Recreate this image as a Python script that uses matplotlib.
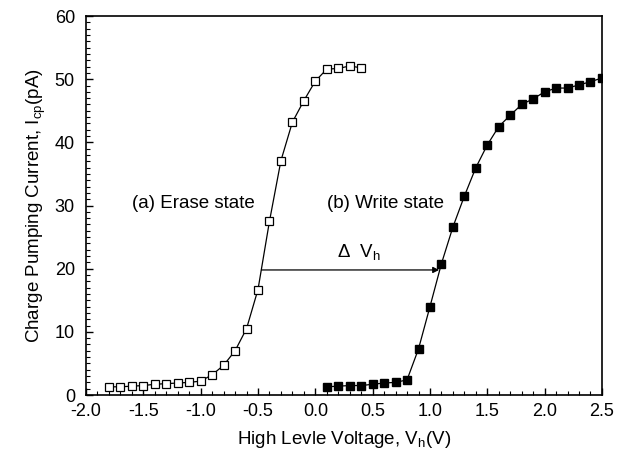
import matplotlib
matplotlib.use("Agg")
import matplotlib.pyplot as plt
from matplotlib.ticker import MultipleLocator, FormatStrFormatter

plt.rcParams['font.family'] = ['Liberation Sans', 'DejaVu Sans']
plt.rcParams['mathtext.fontset'] = 'custom'
plt.rcParams['mathtext.rm'] = 'Liberation Sans'
plt.rcParams['mathtext.it'] = 'Liberation Sans:italic'

# erase state (open squares)
erase_v = [-1.8, -1.7, -1.6, -1.5, -1.4, -1.3, -1.2, -1.1, -1.0, -0.9, -0.8, -0.7,
           -0.6, -0.5, -0.4, -0.3, -0.2, -0.1, 0.0, 0.1, 0.2, 0.3, 0.4]
erase_i = [1.3, 1.3, 1.4, 1.5, 1.7, 1.8, 1.9, 2.0, 2.2, 3.2, 4.7, 7.0,
           10.5, 16.7, 27.5, 37.1, 43.2, 46.6, 49.7, 51.6, 51.7, 52.1, 51.8]

# write state (filled squares)
write_v = [0.1, 0.2, 0.3, 0.4, 0.5, 0.6, 0.7, 0.8, 0.9, 1.0, 1.1, 1.2, 1.3,
           1.4, 1.5, 1.6, 1.7, 1.8, 1.9, 2.0, 2.1, 2.2, 2.3, 2.4, 2.5]
write_i = [1.3, 1.4, 1.5, 1.5, 1.7, 1.9, 2.0, 2.4, 7.3, 14.0, 20.8, 26.6, 31.5,
           36.0, 39.6, 42.5, 44.3, 46.0, 46.9, 48.0, 48.6, 48.6, 49.1, 49.6, 50.2]

fig = plt.figure(figsize=(6.3, 4.59), dpi=100)
ax = fig.add_axes([0.1365, 0.1394, 0.819, 0.8256])

ax.plot(erase_v, erase_i, '-', color='black', lw=0.9, marker='s', ms=6,
        mfc='white', mec='black', mew=0.9)
ax.plot(write_v, write_i, '-', color='black', lw=0.9, marker='s', ms=6,
        mfc='black', mec='black')

ax.annotate('', xy=(1.08, 19.8), xytext=(-0.47, 19.8),
            arrowprops=dict(arrowstyle='-|>', color='black', lw=0.9,
                            mutation_scale=9, shrinkA=0, shrinkB=0))
ax.text(-1.6, 30.4, '(a) Erase state', fontsize=13.5, va='center', ha='left')
ax.text(0.1, 30.4, '(b) Write state', fontsize=13.5, va='center', ha='left')
ax.text(0.19, 22.7, r'$\Delta$  V$_{\rm h}$', fontsize=13.5, va='center', ha='left')

ax.set_xlim(-2.0, 2.5)
ax.set_ylim(0, 60)
ax.xaxis.set_major_locator(MultipleLocator(0.5))
ax.xaxis.set_minor_locator(MultipleLocator(0.1))
ax.yaxis.set_major_locator(MultipleLocator(10))
ax.yaxis.set_minor_locator(MultipleLocator(1))
ax.xaxis.set_major_formatter(FormatStrFormatter('%.1f'))
ax.tick_params(which='both', direction='in', top=False, right=False, labelsize=13)
ax.tick_params(which='major', length=5, width=1)
ax.tick_params(which='minor', length=3, width=0.8)
ax.tick_params(axis='x', which='major', pad=6)
ax.tick_params(axis='y', which='major', pad=8)
for s in ax.spines.values():
    s.set_linewidth(1.2)

ax.set_xlabel(r'High Levle Voltage, V$_{\rm h}$(V)', fontsize=13.5, labelpad=6)
ax.set_ylabel(r'Charge Pumping Current, I$_{\rm cp}$(pA)', fontsize=13.5, labelpad=5)

fig.savefig('out.png', dpi=100)
